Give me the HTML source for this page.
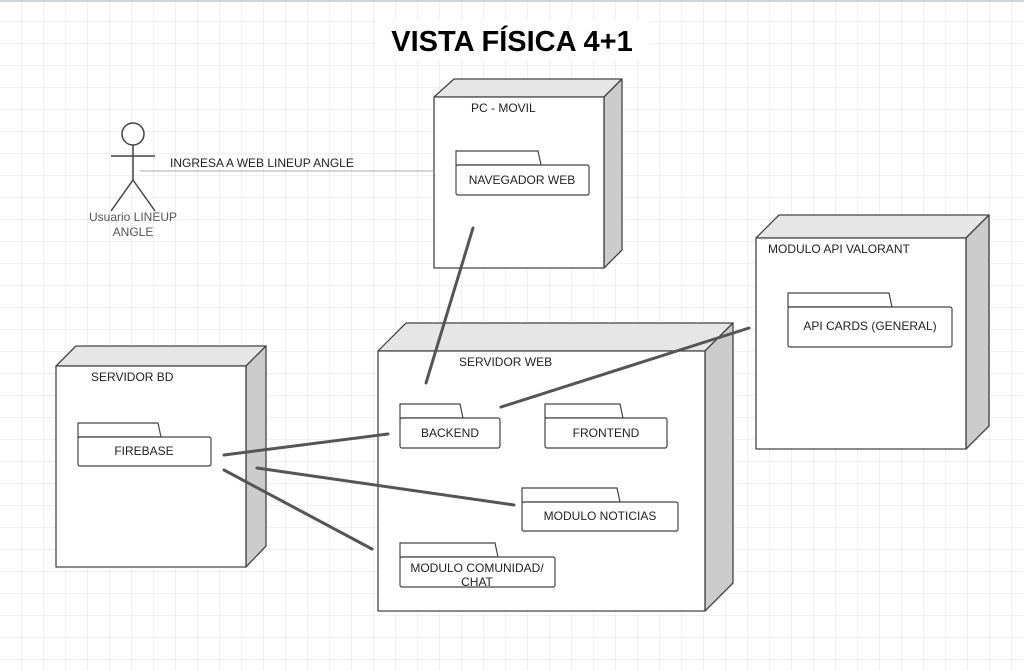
<!DOCTYPE html>
<html><head><meta charset="utf-8"><style>
html,body{margin:0;padding:0;background:#fff}
svg{display:block;font-family:"Liberation Sans",sans-serif}
</style></head><body>
<svg width="1024" height="671" viewBox="0 0 1024 671" xmlns="http://www.w3.org/2000/svg">
<defs>
<pattern id="g" width="22" height="22" patternUnits="userSpaceOnUse">
<path d="M22 0V22M0 22H22" fill="none" stroke="#e0e0e0" stroke-width="1"/>
</pattern>
</defs>
<rect width="1024" height="671" fill="#fff"/>
<rect width="1024" height="671" fill="url(#g)"/>
<rect width="1024" height="2" fill="#d0d4dc"/>
<rect x="375" y="20" width="275" height="40" fill="#fff"/>
<text x="512" y="51" font-size="29" font-weight="bold" text-anchor="middle" fill="#000">VISTA FÍSICA 4+1</text>

<g stroke="#444" stroke-width="1.3" stroke-linejoin="round">
<polygon points="434,97 454,79 622,79 604,97" fill="#e6e6e6"/>
<polygon points="604,97 622,79 622,250 604,268" fill="#cccccc"/>
<rect x="434" y="97" width="170" height="171" fill="#fff"/>
<polygon points="378,351 406,323 733,323 705,351" fill="#e6e6e6"/>
<polygon points="705,351 733,323 733,583 705,611" fill="#cccccc"/>
<rect x="378" y="351" width="327" height="260" fill="#fff"/>
<polygon points="756,238 779,215 989,215 966,238" fill="#e6e6e6"/>
<polygon points="966,238 989,215 989,426 966,449" fill="#cccccc"/>
<rect x="756" y="238" width="210" height="211" fill="#fff"/>
<polygon points="56,366 76,346 266,346 246,366" fill="#e6e6e6"/>
<polygon points="246,366 266,346 266,546 246,567" fill="#cccccc"/>
<rect x="56" y="366" width="190" height="201" fill="#fff"/>
</g>

<g stroke="#444" stroke-width="1.2" fill="#fff">
<path d="M456 165V151H538L541 165Z"/><rect x="456" y="165" width="133" height="30" rx="2"/>
<path d="M788 307V293H889L892 307Z"/><rect x="788" y="307" width="164" height="40" rx="2"/>
<path d="M78 437V423H158L161 437Z"/><rect x="78" y="437" width="133" height="29" rx="2"/>
<path d="M400 418V404H460L463 418Z"/><rect x="400" y="418" width="100" height="30" rx="2"/>
<path d="M545 418V404H620L623 418Z"/><rect x="545" y="418" width="122" height="30" rx="2"/>
<path d="M522 502V488H617L620 502Z"/><rect x="522" y="502" width="156" height="29" rx="2"/>
<path d="M400 557V543H495L498 557Z"/><rect x="400" y="557" width="155" height="30" rx="2"/>
</g>

<g font-size="12" fill="#222">
<text x="471" y="112">PC - MOVIL</text>
<text x="522" y="184" text-anchor="middle">NAVEGADOR WEB</text>
<text x="768" y="253">MODULO API VALORANT</text>
<text x="870" y="330" text-anchor="middle">API CARDS (GENERAL)</text>
<text x="91" y="381">SERVIDOR BD</text>
<text x="144" y="455" text-anchor="middle">FIREBASE</text>
<text x="459" y="366">SERVIDOR WEB</text>
<text x="450" y="437" text-anchor="middle">BACKEND</text>
<text x="606" y="437" text-anchor="middle">FRONTEND</text>
<text x="600" y="520" text-anchor="middle">MODULO NOTICIAS</text>
<text x="477" y="572" text-anchor="middle">MODULO COMUNIDAD/</text>
<text x="477" y="586" text-anchor="middle">CHAT</text>
<text x="170" y="167">INGRESA A WEB  LINEUP ANGLE</text>
</g>
<g font-size="12" fill="#555" text-anchor="middle">
<text x="133" y="221">Usuario LINEUP</text>
<text x="133" y="236">ANGLE</text>
</g>

<line x1="140" y1="171" x2="434" y2="171" stroke="#aaa" stroke-width="1"/>
<g stroke="#444" stroke-width="1.5" fill="#fff">
<circle cx="133" cy="134" r="11"/>
<path d="M133 145V180M111 156H155M133 180L111 211M133 180L155 211" fill="none"/>
</g>

<g stroke="#555" stroke-width="3" stroke-linecap="round">
<line x1="473" y1="228" x2="426" y2="383"/>
<line x1="501" y1="407" x2="749" y2="328"/>
<line x1="224" y1="455" x2="388" y2="434"/>
<line x1="257" y1="468" x2="514" y2="505"/>
<line x1="224" y1="470" x2="372" y2="549"/>
</g>
</svg>
</body></html>
